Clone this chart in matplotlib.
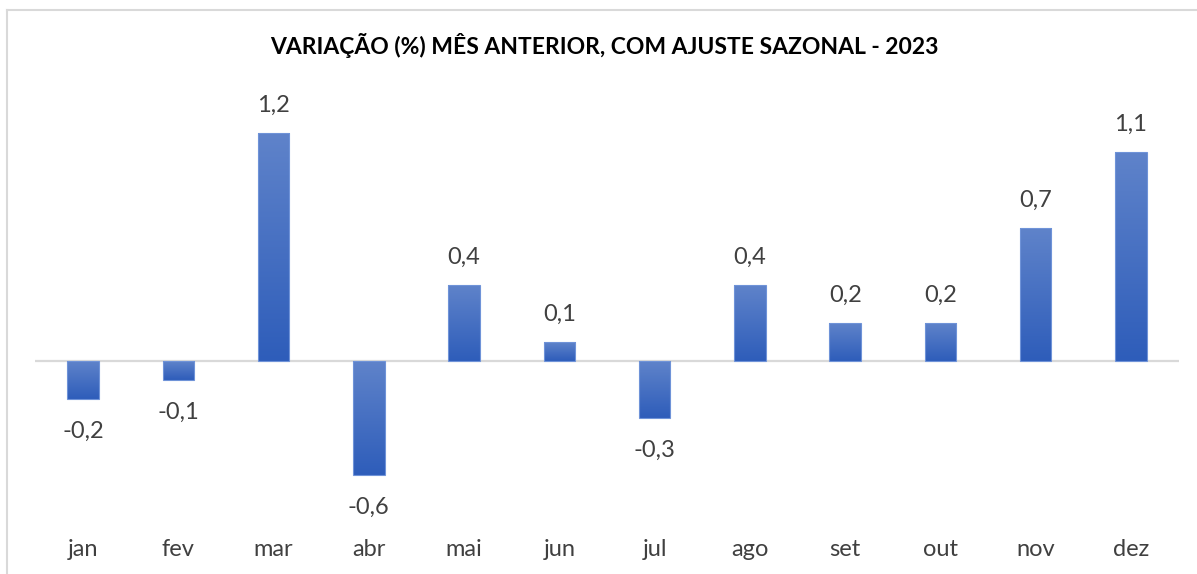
import matplotlib
matplotlib.use("Agg")
import matplotlib.pyplot as plt  # noqa: E402
import numpy as np  # noqa: E402
from matplotlib.colors import LinearSegmentedColormap  # noqa: E402

meses = ["jan", "fev", "mar", "abr", "mai", "jun", "jul", "ago", "set", "out", "nov", "dez"]
variacao = [-0.2, -0.1, 1.2, -0.6, 0.4, 0.1, -0.3, 0.4, 0.2, 0.2, 0.7, 1.1]
titulo = "VARIAÇÃO (%) MÊS ANTERIOR, COM AJUSTE SAZONAL - 2023"

plt.rcParams["font.family"] = ["Lato", "DejaVu Sans"]
TXT = "#404040"

fig = plt.figure(figsize=(11.97, 5.74), dpi=100)
ax = fig.add_axes([0.0296, 0.1063, 0.955, 0.728])

x = np.arange(len(meses))
bars = ax.bar(x, variacao, width=0.33, facecolor="none", edgecolor="#6F93D8", linewidth=0.8, zorder=3)

grad = LinearSegmentedColormap.from_list("g", ["#2E5DBA", "#5F83CA"])
ramp = np.linspace(0, 1, 256).reshape(-1, 1)
for b in bars:
    x0, y0 = b.get_x(), min(b.get_y(), b.get_y() + b.get_height())
    x1, y1 = x0 + b.get_width(), max(b.get_y(), b.get_y() + b.get_height())
    ax.imshow(ramp, cmap=grad, extent=(x0, x1, y0, y1), origin="lower",
              aspect="auto", zorder=2, interpolation="bilinear")

ax.axhline(0, color="#D9D9D9", linewidth=1.6, zorder=1)

for xi, v in zip(x, variacao):
    off = 20 if v >= 0 else -23
    ax.annotate(f"{v:.1f}".replace(".", ","), (xi, v), xytext=(0, off), textcoords="offset points",
                ha="center", va="center", fontsize=17, color=TXT)

ax.set_xlim(-0.5, len(meses) - 0.5)
ax.set_ylim(-0.8, 1.4)
ax.set_xticks(x)
ax.set_xticklabels(meses, fontsize=17, color=TXT)
ax.tick_params(axis="x", length=0, pad=19)
ax.set_yticks([])
for s in ax.spines.values():
    s.set_visible(False)

fig.text(0.505, 0.921, titulo, ha="center", va="center", fontsize=16.5, fontweight="bold", color="#000000")

# chart frame (only top and left edges are inside the crop)
fig.add_artist(plt.Line2D([7 / 1197, 7 / 1197], [0, 1 - 10 / 574], color="#D9D9D9", linewidth=1.5))
fig.add_artist(plt.Line2D([7 / 1197, 1], [1 - 10 / 574, 1 - 10 / 574], color="#D9D9D9", linewidth=1.5))

fig.savefig("out.png", dpi=100)
